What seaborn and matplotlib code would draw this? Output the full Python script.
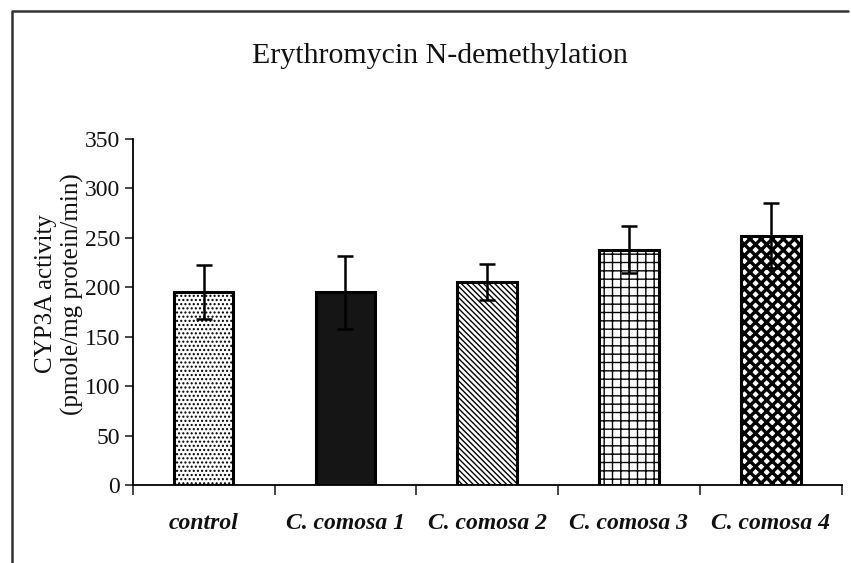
import matplotlib
matplotlib.use('Agg')
import matplotlib.pyplot as plt
import seaborn as sns
import pandas as pd
from matplotlib.lines import Line2D

# Data
groups = ['control', 'C. comosa 1', 'C. comosa 2', 'C. comosa 3', 'C. comosa 4']
activity = [195, 195, 205, 238, 252]
sd = [27, 37, 18, 24, 33]
hatches = ['....', '', '\\\\\\\\\\\\', '++', 'xxx']
hatch_lw = [1.0, 1.0, 1.0, 1.0, 2.4]
fills = ['white', '#151515', 'white', 'white', 'white']

df = pd.DataFrame({'group': groups, 'activity': activity})

sns.set_style('white')
plt.rcParams['font.family'] = ['Liberation Serif', 'DejaVu Serif']
plt.rcParams['hatch.linewidth'] = 1.0

fig = plt.figure(figsize=(8.51, 5.63), dpi=100)
ax = fig.add_axes([0.156, 0.1385, 0.833, 0.615])

sns.barplot(data=df, x='group', y='activity', ax=ax, width=0.42,
            errorbar=None, color='white', edgecolor='black', linewidth=2.2)
for bar, h, c, lw in zip(ax.patches, hatches, fills, hatch_lw):
    bar.set_hatch(h)
    bar.set_facecolor(c)
    try:
        bar.set_hatch_linewidth(lw)
    except AttributeError:
        pass

ax.errorbar(range(len(groups)), activity, yerr=sd, fmt='none',
            ecolor='black', elinewidth=1.8, capsize=6, capthick=1.8, zorder=5)

ax.set_ylim(0, 350)
ax.set_xlim(-0.5, len(groups) - 0.5)
ax.set_yticks(range(0, 351, 50))
ax.tick_params(axis='y', direction='out', length=6, width=1.2, labelsize=17,
               pad=3, left=True, labelcolor='#111111')
ax.set_xticks(range(len(groups)))
ax.set_xticks([i - 0.5 for i in range(len(groups) + 1)], minor=True)
ax.tick_params(axis='x', which='major', length=0, pad=20, labelcolor='#111111')
ax.tick_params(axis='x', which='minor', direction='out', length=7, width=1.2,
               bottom=True)
for lab in ax.get_xticklabels():
    lab.set_fontstyle('italic')
    lab.set_fontweight('bold')
    lab.set_fontsize(17)

for s in ['top', 'right']:
    ax.spines[s].set_visible(False)
for s in ['left', 'bottom']:
    ax.spines[s].set_linewidth(1.3)
    ax.spines[s].set_color('black')
ax.set_xlabel('')
ax.set_ylabel('')

fig.text(0.054, 0.478, 'CYP3A activity', rotation=90, ha='center',
         va='center', fontsize=18, color='#111111')
fig.text(0.085, 0.478, '(pmole/mg protein/min)', rotation=90, ha='center',
         va='center', fontsize=18, color='#111111')
fig.text(0.517, 0.9, 'Erythromycin N-demethylation', ha='center',
         va='center', fontsize=21.5, color='#111111')

# outer frame (left and top edges visible in the scan)
fig.add_artist(Line2D([0.014, 0.014, 0.997], [0.0, 0.981, 0.981],
                      color='#333333', linewidth=1.8))

fig.savefig('out.png', dpi=100)
